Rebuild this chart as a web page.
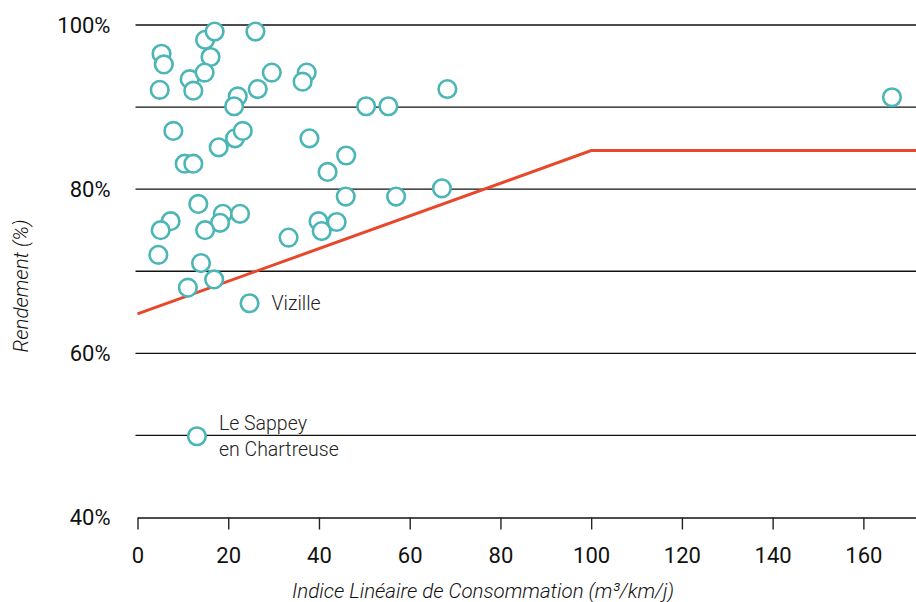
<!DOCTYPE html>
<html>
<head>
<meta charset="utf-8">
<script src="https://cdn.jsdelivr.net/npm/d3@7"></script>
<style>
  body { margin: 0; background: #fff; }
  svg { display: block; font-family: Roboto, 'Noto Sans', sans-serif; }
</style>
</head>
<body>
<div id="wrapper"></div>
<script>
// indice linéaire de consommation (m3/km/j) per commune
const ilc = [
  5.3, 5.8, 4.9, 7.9, 11.5, 12.3, 14.9, 17.0, 16.1, 14.8,
  22.1, 21.3, 26.5, 29.6, 26.0, 37.3, 36.4, 17.9, 21.5, 23.2,
  37.9, 10.4, 12.3, 41.9, 50.4, 55.3, 68.3, 46.0, 45.9, 57.0,
  67.1, 13.4, 7.3, 5.1, 18.8, 18.2, 14.9, 22.6, 33.3, 39.9,
  40.6, 43.9, 4.6, 14.0, 16.9, 11.1, 24.7, 13.1, 166.3,
]
// rendement du réseau (%)
const rendement = [
  96.5, 95.2, 92.1, 87.1, 93.4, 92.0, 98.2, 99.2, 96.1, 94.2,
  91.3, 90.1, 92.2, 94.2, 99.2, 94.2, 93.1, 85.1, 86.2, 87.1,
  86.2, 83.1, 83.1, 82.1, 90.1, 90.1, 92.2, 84.1, 79.1, 79.1,
  80.1, 78.2, 76.1, 75.0, 77.0, 75.9, 75.0, 77.0, 74.1, 76.1,
  74.9, 76.0, 72.0, 71.0, 69.0, 68.0, 66.1, 49.9, 91.2,
]
// names shown next to a few points
const names = ilc.map(() => [])
names[46] = ['Vizille']
names[47] = ['Le Sappey', 'en Chartreuse']

// seuil de rendement (red line)
const seuilIlc = [0, 100, 171.6]
const seuilRendement = [64.8, 84.7, 84.7]

const xTicks = [0, 20, 40, 60, 80, 100, 120, 140, 160]
const yTicks = [40, 60, 80, 100]
const gridTicks = [50, 60, 70, 80, 90, 100]

function drawChart() {
  // ---------------------------------------------------
  // 1. DIMENSIONS
  // ---------------------------------------------------
  const dimensions = {
    width: 916,
    height: 602,
    margin: { top: 25, right: 0, bottom: 84.5, left: 137.5 },
  }
  dimensions.boundedWidth =
    dimensions.width - dimensions.margin.left - dimensions.margin.right
  dimensions.boundedHeight =
    dimensions.height - dimensions.margin.top - dimensions.margin.bottom

  // ---------------------------------------------------
  // 2. CANVAS
  // ---------------------------------------------------
  const svg = d3
    .select('#wrapper')
    .append('svg')
    .attr('width', dimensions.width)
    .attr('height', dimensions.height)

  const bounds = svg
    .append('g')
    .attr(
      'transform',
      `translate(${dimensions.margin.left}, ${dimensions.margin.top})`
    )

  // ---------------------------------------------------
  // 3. SCALES
  // ---------------------------------------------------
  const xScale = d3
    .scaleLinear()
    .domain([0, 171.6])
    .range([0, dimensions.boundedWidth])

  const yScale = d3
    .scaleLinear()
    .domain([40, 100])
    .range([dimensions.boundedHeight, 0])

  // ---------------------------------------------------
  // 4. GRID + AXES
  // ---------------------------------------------------
  bounds
    .append('g')
    .attr('class', 'grid')
    .selectAll('line')
    .data(gridTicks)
    .join('line')
    .attr('x1', -2)
    .attr('x2', dimensions.boundedWidth)
    .attr('y1', (d) => yScale(d))
    .attr('y2', (d) => yScale(d))
    .attr('stroke', '#111')
    .attr('stroke-width', 1.4)

  const xAxisGenerator = d3
    .axisBottom(xScale)
    .tickValues(xTicks)
    .tickSize(12)
    .tickSizeOuter(0)
    .tickPadding(18)

  const xAxis = bounds
    .append('g')
    .attr('transform', `translate(0, ${dimensions.boundedHeight})`)
    .call(xAxisGenerator)
  xAxis.select('.domain').attr('stroke', '#111').attr('stroke-width', 1.4)
  xAxis.selectAll('.tick line').attr('stroke', '#222').attr('stroke-width', 1.4)
  xAxis
    .selectAll('.tick text')
    .attr('fill', '#111')
    .attr('font-size', 22)
    .attr('font-family', 'Roboto, sans-serif')

  const yAxisGenerator = d3
    .axisLeft(yScale)
    .tickValues(yTicks)
    .tickSize(0)
    .tickPadding(27)
    .tickFormat((d) => d + '%')

  const yAxis = bounds.append('g').call(yAxisGenerator)
  yAxis.select('.domain').remove()
  yAxis
    .selectAll('.tick text')
    .attr('fill', '#111')
    .attr('font-size', 22)
    .attr('font-family', 'Roboto, sans-serif')

  // axis titles
  svg
    .append('text')
    .attr('x', 483)
    .attr('y', 598)
    .attr('text-anchor', 'middle')
    .attr('font-style', 'italic')
    .attr('font-weight', 300)
    .attr('font-size', 20.5)
    .attr('fill', '#111')
    .text('Indice Linéaire de Consommation (m³/km/j)')

  svg
    .append('text')
    .attr('transform', 'translate(28, 286) rotate(-90)')
    .attr('text-anchor', 'middle')
    .attr('font-style', 'italic')
    .attr('font-weight', 300)
    .attr('font-size', 20.5)
    .attr('fill', '#111')
    .text('Rendement (%)')

  // ---------------------------------------------------
  // 5. SEUIL LINE
  // ---------------------------------------------------
  const seuil = seuilIlc.map((d, i) => [d, seuilRendement[i]])
  const lineGenerator = d3
    .line()
    .x((d) => xScale(d[0]))
    .y((d) => yScale(d[1]))

  bounds
    .append('path')
    .datum(seuil)
    .attr('d', lineGenerator)
    .attr('fill', 'none')
    .attr('stroke', '#e8472b')
    .attr('stroke-width', 3)

  // ---------------------------------------------------
  // 6. POINTS + NAMES
  // ---------------------------------------------------
  const points = ilc.map((d, i) => ({
    ilc: d,
    rendement: rendement[i],
    name: names[i],
  }))

  bounds
    .append('g')
    .selectAll('circle')
    .data(points)
    .join('circle')
    .attr('cx', (d) => xScale(d.ilc))
    .attr('cy', (d) => yScale(d.rendement))
    .attr('r', 8.8)
    .attr('fill', '#fff')
    .attr('stroke', '#4cb6b6')
    .attr('stroke-width', 2.6)

  const labelled = points.filter((d) => d.name.length)
  const labels = bounds
    .append('g')
    .selectAll('text')
    .data(labelled)
    .join('text')
    .attr('x', (d) => xScale(d.ilc) + 22)
    .attr('y', (d) => yScale(d.rendement) - (d.name.length - 1) * 13)
    .attr('font-size', 19.5)
    .attr('font-weight', 300)
    .attr('fill', '#222')

  labels
    .selectAll('tspan')
    .data((d) => d.name.map((t) => ({ t, x: xScale(d.ilc) + 22 })))
    .join('tspan')
    .attr('x', (d) => d.x)
    .attr('dy', (d, i) => (i === 0 ? '0.35em' : 26))
    .text((d) => d.t)
}

drawChart()
</script>
</body>
</html>
